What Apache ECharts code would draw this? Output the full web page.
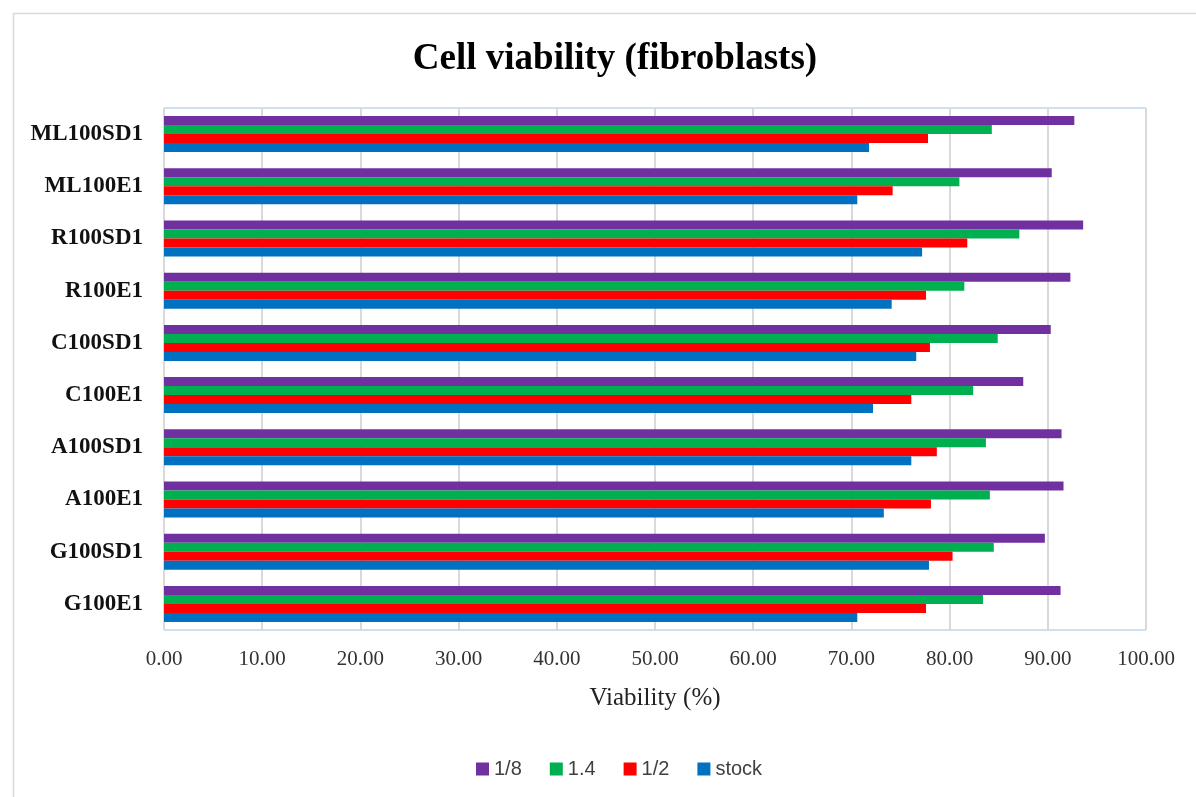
<!DOCTYPE html>
<html>
<head>
<meta charset="utf-8">
<script src="https://cdn.jsdelivr.net/npm/echarts@6/dist/echarts.min.js"></script>
<style>html,body{margin:0;padding:0;background:#fff;}#c{width:1196px;height:797px;}</style>
</head>
<body>
<div id="c"></div>
<script>
const categories = ['G100E1','G100SD1','A100E1','A100SD1','C100E1','C100SD1','R100E1','R100SD1','ML100E1','ML100SD1'];
const eighth = [91.3, 89.7, 91.6, 91.4, 87.5, 90.3, 92.3, 93.6, 90.4, 92.7];
const onePoint4 = [83.4, 84.5, 84.1, 83.7, 82.4, 84.9, 81.5, 87.1, 81.0, 84.3];
const half = [77.6, 80.3, 78.1, 78.7, 76.1, 78.0, 77.6, 81.8, 74.2, 77.8];
const stock = [70.6, 77.9, 73.3, 76.1, 72.2, 76.6, 74.1, 77.2, 70.6, 71.8];
const xTicks = [0,10,20,30,40,50,60,70,80,90,100];

const chart = echarts.init(document.getElementById('c'));
const barCommon = { type: 'bar', barWidth: 9, barGap: '0%', barCategoryGap: '31%' };
chart.setOption({
  animation: false,
  backgroundColor: '#ffffff',
  graphic: [{
    type: 'rect', left: 11, top: 11, shape: { width: 1200, height: 800 },
    style: { fill: 'none', stroke: '#d9d9d9', lineWidth: 1.5 }, silent: true
  }],
  title: {
    text: 'Cell viability (fibroblasts)', left: 610, top: 36, textAlign: 'center',
    textStyle: { fontFamily: 'Liberation Serif', fontWeight: 'bold', fontSize: 37, color: '#000' }
  },
  legend: {
    data: ['1/8', '1.4', '1/2', 'stock'], left: 471, top: 754, itemWidth: 13, itemHeight: 13,
    itemGap: 28, icon: 'rect',
    textStyle: { fontFamily: 'Liberation Sans', fontSize: 20, color: '#404040' }
  },
  grid: { left: 164, right: 50, top: 108, bottom: 167, show: true, borderColor: '#9dc3e6', borderWidth: 1 },
  xAxis: {
    type: 'value', min: 0, max: 100, interval: 10,
    name: 'Viability (%)', nameLocation: 'middle', nameGap: 56,
    nameTextStyle: { fontFamily: 'Liberation Serif', fontSize: 25, color: '#222' },
    axisLine: { show: false }, axisTick: { show: false },
    axisLabel: { formatter: v => v.toFixed(2), margin: 19, fontFamily: 'Liberation Serif', fontSize: 21, color: '#333' },
    splitLine: { show: true, lineStyle: { color: '#d9d9d9', width: 2 } }
  },
  yAxis: {
    type: 'category', data: categories,
    axisLine: { show: false }, axisTick: { show: false },
    axisLabel: { margin: 21, fontFamily: 'Liberation Serif', fontWeight: 'bold', fontSize: 23, color: '#111' }
  },
  series: [
    Object.assign({ name: '1/8', data: eighth, itemStyle: { color: '#7030a0' } }, barCommon),
    Object.assign({ name: '1.4', data: onePoint4, itemStyle: { color: '#00b050' } }, barCommon),
    Object.assign({ name: '1/2', data: half, itemStyle: { color: '#ff0000' } }, barCommon),
    Object.assign({ name: 'stock', data: stock, itemStyle: { color: '#0070c0' } }, barCommon)
  ]
});
</script>
</body>
</html>
